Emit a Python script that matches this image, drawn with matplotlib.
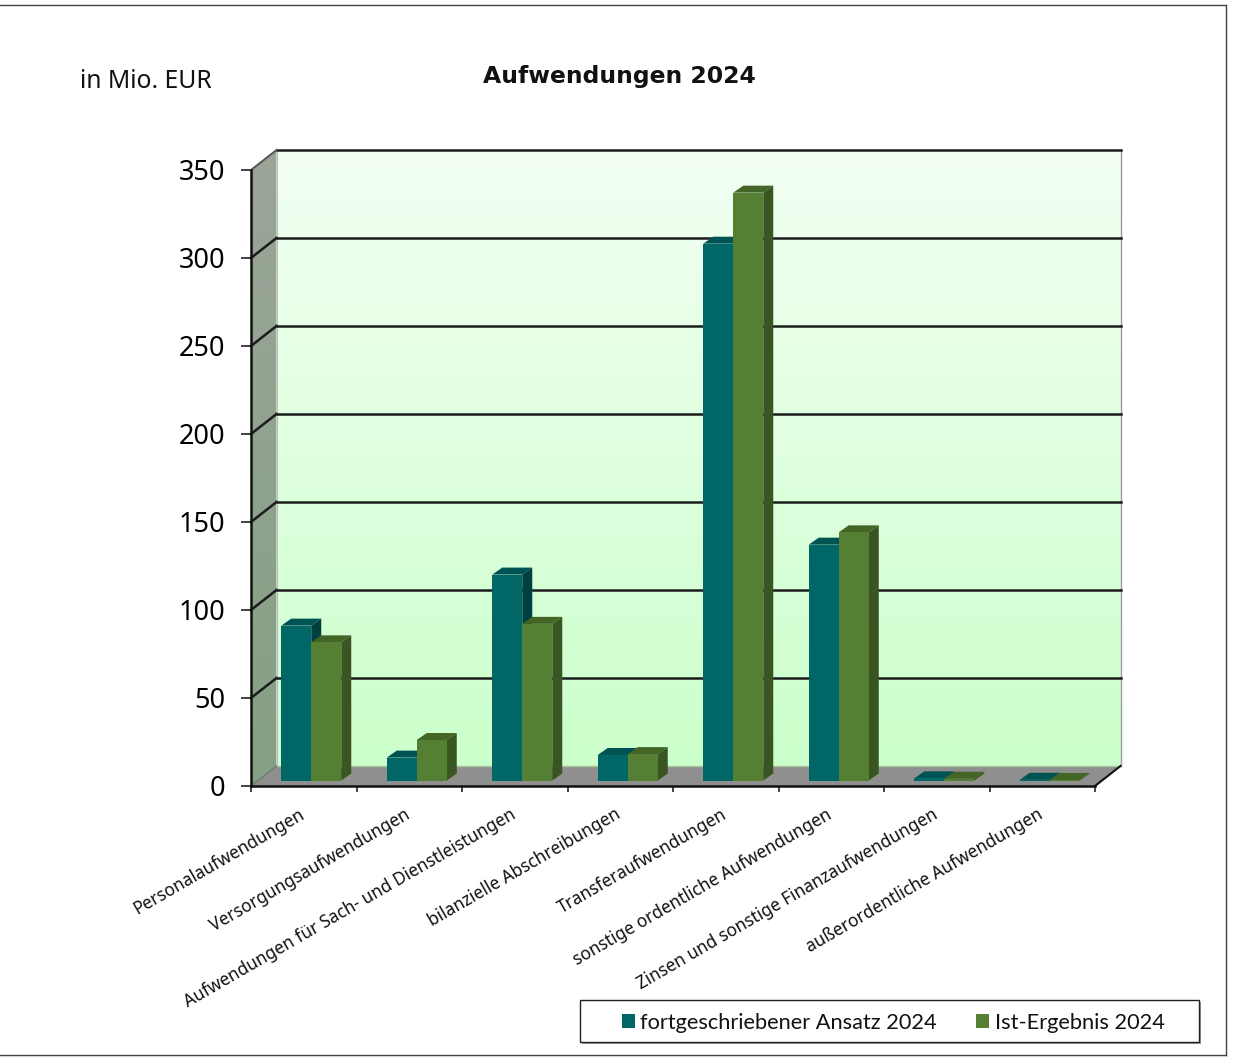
import numpy as np
import matplotlib
matplotlib.use('Agg')
import matplotlib.pyplot as plt
from matplotlib.patches import Polygon, Rectangle
from matplotlib.lines import Line2D

plt.rcParams['font.family'] = ['Noto Sans', 'DejaVu Sans']

categories = ['Personalaufwendungen', 'Versorgungsaufwendungen',
              'Aufwendungen für Sach- und Dienstleistungen', 'bilanzielle Abschreibungen',
              'Transferaufwendungen', 'sonstige ordentliche Aufwendungen',
              'Zinsen und sonstige Finanzaufwendungen', 'außerordentliche Aufwendungen']
ansatz = [88, 13, 117, 14.5, 305, 134, 1.2, 0.4]
ergebnis = [78.5, 23, 89, 15, 334, 141, 1.0, 0.3]
yticks = [0, 50, 100, 150, 200, 250, 300, 350]
series_names = ['fortgeschriebener Ansatz 2024', 'Ist-Ergebnis 2024']

W, H = 1234, 1057
fig = plt.figure(figsize=(W / 100, H / 100), dpi=100)
L, R, B, T = 251, 1095, 786, 170
ax = fig.add_axes([L / W, 1 - B / H, (R - L) / W, (B - T) / H])
ax.patch.set_visible(False)

# pixel -> data faktoren
ux = 8 / (R - L)
uy = 350 / (B - T)
wall_dx, wall_dy = 25.5 * ux, 20 * uy
off_x, off_y = 7.5 * ux, 5.5 * uy
bar_dx, bar_dy = 10 * ux, 7 * uy
bar_w = 30 * ux

# rueckwand, verlauf
grad = np.linspace(0, 1, 256).reshape(-1, 1)
back_top, back_bot = np.array([243, 255, 243]) / 255, np.array([203, 255, 203]) / 255
back_img = (back_top + (back_bot - back_top) * grad).reshape(256, 1, 3)
ax.imshow(back_img, extent=[wall_dx, 8 + wall_dx, wall_dy, 350 + wall_dy], aspect='auto', zorder=0, clip_on=False)

# linke wand
side_top, side_bot = np.array([155, 165, 152]) / 255, np.array([133, 160, 133]) / 255
side_img = (side_top + (side_bot - side_top) * grad).reshape(256, 1, 3)
im = ax.imshow(side_img, extent=[0, wall_dx, 0, 350 + wall_dy], aspect='auto', zorder=0)
clip = Polygon([(0, 0), (wall_dx, wall_dy), (wall_dx, 350 + wall_dy), (0, 350)], transform=ax.transData)
im.set_clip_path(clip)
im.set_clip_box(fig.bbox)

# boden
ax.add_patch(Polygon([(0, 0), (8, 0), (8 + wall_dx, wall_dy), (wall_dx, wall_dy)], fc='#8f8f8f', ec='none',
                     zorder=1, clip_on=False))
ax.plot([wall_dx, wall_dx], [wall_dy, 350 + wall_dy], color='#b8c4b8', lw=0.8, zorder=1, clip_on=False)
ax.plot([8 + wall_dx, 8 + wall_dx], [wall_dy, 350 + wall_dy], color='#9a9a9a', lw=1, zorder=1, clip_on=False)
ax.plot([wall_dx, 8 + wall_dx], [wall_dy, wall_dy], color='#a9c4a0', lw=1, zorder=1, clip_on=False)

# gitterlinien
for v in yticks[1:]:
    ax.plot([wall_dx, 8 + wall_dx], [v + wall_dy, v + wall_dy], color='#1c1c1c', lw=1.8, zorder=2, clip_on=False)
    if v < 350:
        ax.plot([0, wall_dx], [v, v + wall_dy], color='#1c1c1c', lw=1.8, zorder=2, clip_on=False)
ax.plot([0, wall_dx], [350, 350 + wall_dy], color='#555555', lw=1.4, zorder=2, clip_on=False)
ax.plot([0, wall_dx], [0, wall_dy], color='#777777', lw=1, zorder=2, clip_on=False)
ax.plot([8, 8 + wall_dx], [0, wall_dy], color='#111111', lw=1.5, zorder=2, clip_on=False)


def bar3d(x0, val, front, top, side, z):
    y0 = off_y
    x = x0 + off_x
    ax.add_patch(Polygon([(x, y0 + val), (x + bar_w, y0 + val), (x + bar_w + bar_dx, y0 + val + bar_dy),
                          (x + bar_dx, y0 + val + bar_dy)], fc=top, ec='none', zorder=z, clip_on=False))
    ax.add_patch(Polygon([(x + bar_w, y0), (x + bar_w + bar_dx, y0 + bar_dy),
                          (x + bar_w + bar_dx, y0 + val + bar_dy), (x + bar_w, y0 + val)],
                         fc=side, ec='none', zorder=z, clip_on=False))
    ax.add_patch(Rectangle((x, y0), bar_w, val, fc=front, ec='none', zorder=z + 0.1, clip_on=False))


for i in range(len(categories)):
    c = i + 0.5
    bar3d(c - bar_w, ansatz[i], '#006666', '#005353', '#004040', 3 + i)
    bar3d(c, ergebnis[i], '#558033', '#436626', '#385522', 3.5 + i)

ax.set_xlim(0, 8)
ax.set_ylim(0, 350)
ax.set_xticks(range(9))
ax.set_xticklabels([])
ax.set_yticks(yticks)
ax.tick_params(axis='y', length=7.2, width=1.1, pad=11.5, labelsize=19.5, color='#111111')
ax.tick_params(axis='x', length=4.5, width=1.1, color='#111111')
for s in ['top', 'right']:
    ax.spines[s].set_visible(False)
for s in ['left', 'bottom']:
    ax.spines[s].set_linewidth(1.8)
    ax.spines[s].set_color('#111111')
    ax.spines[s].set_zorder(20)

for i, name in enumerate(categories):
    ax.annotate(name, xy=(i + 0.5, 0), xytext=(-0.5, -19.5), textcoords='offset points', rotation=30,
                rotation_mode='anchor', ha='right', va='center', fontsize=12.4, color='#111111',
                annotation_clip=False)

fig.text(619 / W, 1 - 76 / H, 'Aufwendungen 2024', ha='center', va='center', fontsize=16.9, fontweight='bold',
         family='DejaVu Sans', color='#111111')
fig.text(80 / W, 1 - 81 / H, 'in Mio. EUR', ha='left', va='center', fontsize=17.8, color='#111111')

# aeusserer rahmen
for xs, ys, col in [([0, 1226], [5, 5], '#444444'), ([1226, 1226], [5, 1055], '#444444'),
                    ([0, 1226], [1055, 1055], '#444444'), ([0, 1228], [1057, 1057], '#aaaaaa')]:
    fig.add_artist(Line2D([x / W for x in xs], [1 - y / H for y in ys], color=col, lw=1))

# legende
fig.add_artist(Rectangle((582 / W, 1 - 1044 / H), 619 / W, 42 / H, fc='#999999', ec='none', transform=fig.transFigure))
fig.add_artist(Rectangle((580 / W, 1 - 1042 / H), 619 / W, 42 / H, fc='white', ec='#222222', lw=1, transform=fig.transFigure))
handles = [Rectangle((0, 0), 1, 1, fc='#006666', ec='none'), Rectangle((0, 0), 1, 1, fc='#558033', ec='none')]
fig.legend(handles, series_names, ncol=2, loc='center', bbox_to_anchor=(893 / W, 1 - 1023 / H), frameon=False,
           prop={'family': 'Lato', 'size': 15.7}, handlelength=0.6, handleheight=0.6, handletextpad=0.25,
           columnspacing=1.8, labelcolor='#111111')

fig.savefig('out.png', dpi=100)
